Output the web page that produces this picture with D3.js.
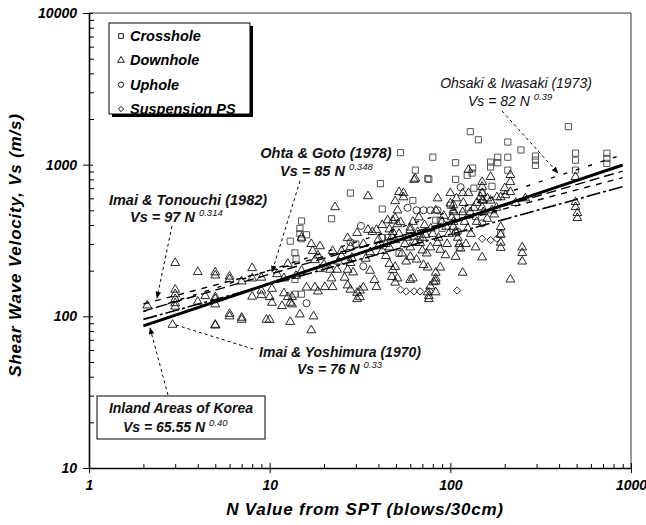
<!DOCTYPE html>
<html><head><meta charset="utf-8">
<script src="https://cdn.jsdelivr.net/npm/d3@7"></script>
<style>body{margin:0;background:#fff;} svg{display:block;} text{font-family:"Liberation Sans",Arial,sans-serif;}</style>
</head><body><svg id="c" width="646" height="525"></svg>
<script>
// ---------- data ----------
const xTicks = [1, 10, 100, 1000];
const yTicks = [10, 100, 1000, 10000];
const legendLabels = ["Crosshole", "Downhole", "Uphole", "Suspension PS"];

const crosshole = [[450,1780],[129,1650],[143,1460],[208,1410],[246,1250],[208,1120],[208,920],
[296,1140],[296,1070],[296,990],[493,1190],[493,1070],[493,920],[735,1190],[735,1100],[735,1020],
[80,1120],[107,1030],[75,810],[133,950],[132,880],[167,1040],[167,965],[183,1030],[53,1200],
[64,920],[76,800],[107,800],[124,850],[41,750],[28,650],[42,510],[22,440],[15,425],[14.7,380],
[14.7,350],[15,325],[16,345],[13,313],[13.8,262],[14,240],[13.8,175],[13.8,140],[15,140],[62,580],
[126,520],[117,465],[138,455],[190,350],[83,430],[88,430],[68,320],[107,355],[112,285],[183,1120],
[30,300],[45,330],[52,260],[90,380],[100,540],[135,700],[150,650],[170,720]];

const downhole = [[3,225],[4,196],[5,195],[6,176],[8,208],[3,150],[3,140],[3,130],[3,122],[3,116],
[2.1,118],[5,130],[5,120],[4,125],[2.9,88],[5,88],[6,100],[7,98],[8,135],[9,138],[7,170],[9.6,95],
[4.4,136],[5,134],[6,104],[7,95],[5,87],[10,95],[13,92],[17,81],[14.7,103],[17.5,100],[5,186],
[9,148],[10,134],[10.3,123],[11.7,117],[12,142],[13,123],[13.3,134],[10.3,152],[12.6,134],[13.3,120],
[12.6,222],[17.8,235],[17.3,270],[18.5,252],[35,620],[23,525],[35,372],[37,360],[39,372],[27,203],
[28,225],[16,155],[17.8,155],[18.5,146],[20.2,156],[23.6,203],[22,178],[22.3,156],[28,150],[30.5,143],
[30.5,130],[33,155],[39,156],[38,174],[49.5,167],[22.3,270],[27,328],[30.5,355],[60,370],[53,418],
[55,650],[63,795],[28,287],[28.5,243],[21.6,203],[27,160],[31.6,148],[31.6,134],[49.5,212],[51,178],
[62,178],[83,170],[83,144],[88,210],[70,272],[77.5,285],[64,305],[52,660],[55,610],[49.5,575],[85,600],
[83,500],[100,650],[117,650],[126,650],[100,555],[104,500],[51,500],[49.5,445],[48,428],[51,405],
[147,610],[152,580],[167,580],[181,610],[202,630],[60,385],[63,335],[73,345],[46,375],[47.5,335],
[49.5,318],[46,285],[60,285],[68,305],[85,305],[88,275],[60,247],[65,237],[71,218],[75,210],[94,253],
[107,247],[138,285],[117,194],[46,222],[48,202],[47.5,182],[60,174],[83,194],[77.5,158],[75,144],
[76,130],[81,168],[190,388],[190,345],[190,306],[190,283],[493,830],[493,567],[493,525],[505,480],
[505,445],[215,855],[215,770],[215,660],[150,770],[150,715],[150,650],[150,583],[150,523],[152,486],
[190,610],[104,540],[104,486],[117,486],[129,486],[250,285],[250,262],[250,230],[150,245],[215,175],
[83,178],[76,136],[64,810],[126,925],[167,830],[104,420],[104,390],[107,360],[110,330],[112,300],
[114,280],[45,430],[42,400],[48,360],[40,320],[15,330],[17,300],[19,290],[11,190],[12,178],[8,178],
[6,183],[9,180],[40,290],[42,270],[56,300],[58,330],[66,360],[72,400],[78,380],[90,420],[95,390],
[98,350],[120,420],[125,380],[130,350],[140,420],[160,440],[175,470],[36,265],[33,300],[25,250],
[24,230],[20,220],[19,205],[15,200],[14,185],
[25,270],[26,180],[29,195],[34,240],[36,200],[44,250],[44,300],[52,350],[54,260],[57,230],[62,420],
[67,450],[70,330],[74,260],[80,350],[86,330],[92,460],[96,300],[102,450],[108,600],[118,560],[122,300],
[135,520],[140,560],[160,600],[170,500],[180,520],[200,700],[230,560],[260,600]];

const uphole = [[32,395],[28,308],[33,214],[16,122],[114,710],[65,500],[71,500],[77.5,500],[85,500],
[150,410],[110,360],[42,330],[58,520]];

const suspension = [[53,150],[57,146],[63,146],[68,146],[77,146],[109,148],[150,325],[167,318],[181,325]];

// fit-line end points [N, Vs] (from the equations printed on the chart)
const koreaLine = [[2,86.5],[900,995]];
const ohsakiLine = [[2,107.4],[900,1164]];
const ohtaLine = [[2,108.2],[900,907]];
const imaiTLine = [[2,120.6],[900,821]];
const imaiYLine = [[2,95.5],[900,717]];

// ---------- chart ----------
const svg = d3.select("#c");
const x = d3.scaleLog().domain([1,1000]).range([89,631]);
const y = d3.scaleLog().domain([10,10000]).range([468,13]);
const FONT = "'Liberation Sans', Arial, sans-serif";

function minors(lo, hi){ const r=[]; for(let d=lo; d<hi; d*=10) for(let k=2;k<=9;k++) r.push(d*k); return r; }

// frame top/right
svg.append("line").attr("x1",x(1)).attr("x2",x(1000)).attr("y1",y(10000)).attr("y2",y(10000)).attr("stroke","#333").attr("stroke-width",1);
svg.append("line").attr("x1",x(1000)).attr("x2",x(1000)).attr("y1",y(10000)).attr("y2",y(10)).attr("stroke","#333").attr("stroke-width",1);

// bottom axis
const gx = svg.append("g").attr("transform",`translate(0,${y(10)})`);
gx.call(d3.axisBottom(x).tickValues(xTicks).tickSize(5).tickSizeOuter(0).tickPadding(7).tickFormat(d=>d));
gx.append("g").call(d3.axisBottom(x).tickValues(xTicks).tickSize(-5).tickFormat("")).select(".domain").remove();
gx.append("g").call(d3.axisBottom(x).tickValues(minors(1,1000)).tickSize(-4).tickFormat("")).select(".domain").remove();
// left axis
const gy = svg.append("g").attr("transform",`translate(${x(1)},0)`);
gy.call(d3.axisLeft(y).tickValues(yTicks).tickSize(6).tickSizeOuter(0).tickPadding(6).tickFormat(d=>d));
gy.append("g").call(d3.axisLeft(y).tickValues(yTicks).tickSize(-4).tickFormat("")).select(".domain").remove();
gy.append("g").call(d3.axisLeft(y).tickValues(minors(10,10000)).tickSize(-5).tickFormat("")).select(".domain").remove();
svg.selectAll(".domain").attr("stroke","#000").attr("stroke-width",1.6);
svg.selectAll(".tick line").attr("stroke","#000").attr("stroke-width",1);
svg.selectAll(".tick text").attr("font-family",FONT).attr("font-size",14).attr("font-weight","bold").attr("font-style","italic").attr("fill","#000");

// axis titles
svg.append("text").attr("x",365).attr("y",515).attr("text-anchor","middle").attr("letter-spacing",0.8)
 .attr("font-size",17).attr("font-weight","bold").attr("font-style","italic").text("N Value from SPT (blows/30cm)");
svg.append("text").attr("transform","translate(21,245) rotate(-90)").attr("text-anchor","middle").attr("letter-spacing",0.8)
 .attr("font-size",17).attr("font-weight","bold").attr("font-style","italic").text("Shear Wave Velocity, Vs (m/s)");

// markers
const sq = d3.symbol().type(d3.symbolSquare).size(38)();
const tri = d3.symbol().type(d3.symbolTriangle).size(34)();
const circ = d3.symbol().type(d3.symbolCircle).size(40)();
const dia = d3.symbol().type(d3.symbolSquare).size(27)();
function plot(data, path, rot, col){
  svg.append("g").selectAll("path").data(data).join("path")
    .attr("d",path).attr("transform",d=>`translate(${x(d[0])},${y(d[1])})${rot?" rotate(45)":""}`)
    .attr("fill","none").attr("stroke",col).attr("stroke-width",0.9);
}
plot(crosshole, sq, false, "#444");
plot(downhole, tri, false, "#111");
plot(uphole, circ, false, "#222");
plot(suspension, dia, true, "#222");

// fit lines
const line = d3.line().x(d=>x(d[0])).y(d=>y(d[1]));
function fit(data, w, dash){
  svg.append("path").datum(data).attr("d",line).attr("fill","none").attr("stroke","#000")
   .attr("stroke-width",w).attr("stroke-dasharray",dash);
}
fit(ohsakiLine,1.4,"4,9");
fit(ohtaLine,1.4,"10,5");
fit(imaiTLine,1.4,"6,6");
fit(imaiYLine,1.6,"14,3,3,3");
fit(koreaLine,3,null);

// arrow marker
svg.append("defs").append("marker").attr("id","arr").attr("viewBox","0 0 10 10").attr("refX",9).attr("refY",5)
 .attr("markerWidth",7).attr("markerHeight",7).attr("orient","auto-start-reverse")
 .append("path").attr("d","M0,1 L10,5 L0,9 z").attr("fill","#000");
function leader(pts, arrowEnd){
  const p = svg.append("path").attr("d",d3.line()(pts)).attr("fill","none").attr("stroke","#000")
   .attr("stroke-width",1).attr("stroke-dasharray","3,3");
  if(arrowEnd) p.attr("marker-end","url(#arr)");
}
leader([[502,111],[558,173]],true);
leader([[300,181],[272,272]],true);
leader([[172,226],[157,298]],true);
leader([[176,325],[253,349]],false);
leader([[168,395],[150,328]],true);

// annotation text
function label(xp, yp, anchor, main, sup, size, weight){
  const t = svg.append("text").attr("x",xp).attr("y",yp).attr("text-anchor",anchor)
   .attr("font-size",size).attr("font-weight",weight).attr("font-style","italic").attr("fill","#111");
  t.append("tspan").text(main);
  if(sup) t.append("tspan").attr("dy",-6).attr("font-size",9.5).attr("font-weight","normal").text(sup);
  return t;
}
label(516,88,"middle","Ohsaki & Iwasaki (1973)",null,14,"normal");
label(468,106,"start","Vs = 82 N ","0.39",14,"normal");
label(326,158,"middle","Ohta & Goto (1978)",null,14.5,"bold");
label(280,176,"start","Vs = 85 N ","0.348",14.5,"bold");
label(188,205,"middle","Imai & Tonouchi (1982)",null,14.5,"bold");
label(130,222,"start","Vs = 97 N ","0.314",14.5,"bold");
label(340,357,"middle","Imai & Yoshimura (1970)",null,14,"bold");
label(297,374,"start","Vs = 76 N ","0.33",14,"bold");

// Korea box
svg.append("rect").attr("x",97).attr("y",396).attr("width",168).attr("height",43).attr("fill","#fff").attr("stroke","#000").attr("stroke-width",1);
label(181,413,"middle","Inland Areas of Korea",null,14,"bold");
label(123,432,"start","Vs = 65.55 N ","0.40",14,"bold");

// legend
svg.append("rect").attr("x",112).attr("y",26).attr("width",141).attr("height",91).attr("fill","#000");
svg.append("rect").attr("x",109).attr("y",23).attr("width",141).attr("height",91).attr("fill","#fff").attr("stroke","#000").attr("stroke-width",1);
const legSyms = [d3.symbol().type(d3.symbolSquare).size(22)(), d3.symbol().type(d3.symbolTriangle).size(20)(),
  d3.symbol().type(d3.symbolCircle).size(22)(), d3.symbol().type(d3.symbolSquare).size(14)()];
const legY = d3.scalePoint().domain(legendLabels).range([36,109]);
legendLabels.forEach((l,i)=>{
  svg.append("path").attr("d",legSyms[i]).attr("transform",`translate(121,${legY(l)})${i===3?" rotate(45)":""}`)
   .attr("fill","none").attr("stroke","#000").attr("stroke-width",0.9);
  svg.append("text").attr("x",130).attr("y",legY(l)+5).attr("font-size",14.5).attr("font-weight","bold")
   .attr("font-style","italic").text(l);
});
</script></body></html>
